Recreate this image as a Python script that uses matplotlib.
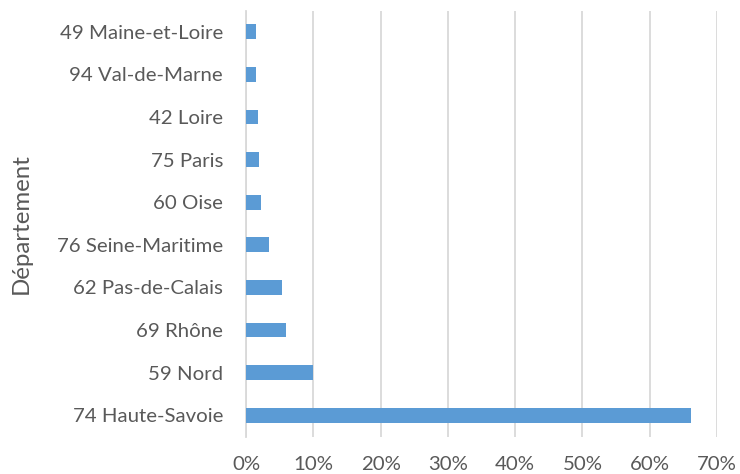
import matplotlib
matplotlib.use("Agg")
import matplotlib.pyplot as plt
from matplotlib.ticker import FuncFormatter

categories = ["74 Haute-Savoie", "59 Nord", "69 Rhône", "62 Pas-de-Calais",
              "76 Seine-Maritime", "60 Oise", "75 Paris", "42 Loire",
              "94 Val-de-Marne", "49 Maine-et-Loire"]
values = [66.1, 9.9, 6.0, 5.4, 3.4, 2.2, 1.9, 1.85, 1.5, 1.5]
xticks = [0, 10, 20, 30, 40, 50, 60, 70]
ylabel = "Département"

plt.rcParams['font.family'] = ['Lato', 'DejaVu Sans']
text_color = "#595959"
grid_color = "#d9d9d9"

fig = plt.figure(figsize=(7.4, 4.74), dpi=100)
ax = fig.add_axes([246/740, 1-436.5/474, (717-246)/740, (436.5-10.5)/474])

ax.barh(range(len(categories)), values, height=0.35, color="#5b9bd5", zorder=3)
ax.set_xlim(0, 70)
ax.set_ylim(-0.5, len(categories)-0.5)
ax.set_xticks(xticks)
ax.xaxis.set_major_formatter(FuncFormatter(lambda v, p: f"{v:.0f}%"))
ax.set_yticks(range(len(categories)))
ax.set_yticklabels(categories)
ax.grid(axis="x", color=grid_color, linewidth=1.3, zorder=0)
for s in ["top", "right", "bottom"]:
    ax.spines[s].set_visible(False)
ax.spines["left"].set_color(grid_color)
ax.spines["left"].set_linewidth(1.3)
ax.tick_params(axis="both", length=0, labelsize=14.7, colors=text_color)
ax.tick_params(axis="y", pad=16.5)
ax.tick_params(axis="x", pad=14)
ax.set_ylabel(ylabel, fontsize=17.3, color=text_color)
ax.yaxis.set_label_coords((32-246)/471, 0.5)

fig.savefig("out.png", dpi=100)
